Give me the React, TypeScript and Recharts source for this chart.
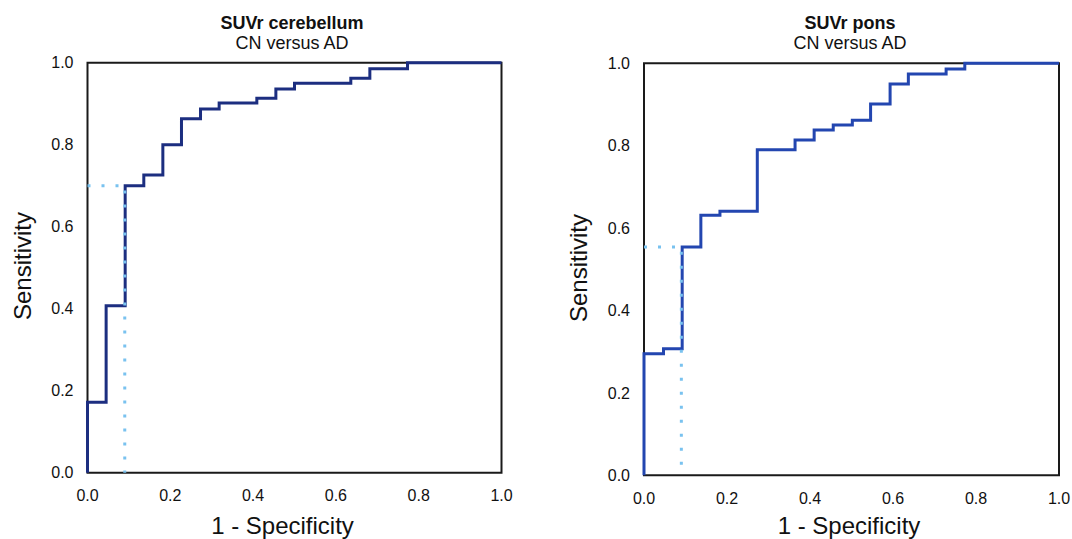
import React from 'react'
import { LineChart, Line, XAxis, YAxis, ReferenceArea } from 'recharts'

// ROC curve: false positive rate (1 - specificity) and sensitivity
const cerebellumFpr = [0, 0, 0.045, 0.091, 0.136, 0.182, 0.227, 0.273, 0.318, 0.409, 0.455, 0.5, 0.636, 0.682, 0.773, 1.0]
const cerebellumSens = [0, 0.172, 0.407, 0.7, 0.726, 0.8, 0.863, 0.887, 0.902, 0.913, 0.936, 0.95, 0.962, 0.985, 1.0, 1.0]

const ponsFpr = [0, 0, 0.047, 0.092, 0.137, 0.183, 0.273, 0.364, 0.41, 0.456, 0.502, 0.546, 0.593, 0.637, 0.728, 0.773, 1.0]
const ponsSens = [0, 0.295, 0.307, 0.554, 0.631, 0.641, 0.79, 0.814, 0.838, 0.85, 0.862, 0.901, 0.95, 0.974, 0.986, 1.0, 1.0]

// optimal cut-off points (dotted guides)
const cerebellumCutoff = { fpr: 0.09, sens: 0.7 }
const ponsCutoff = { fpr: 0.09, sens: 0.554 }

const ticks = [0, 0.2, 0.4, 0.6, 0.8, 1.0]

const FONT = '"Liberation Sans", Arial, Helvetica, sans-serif'

const toPoints = (fpr: number[], sens: number[]) => fpr.map((x, i) => ({ x, y: sens[i] }))
const cutoffPoints = (c: { fpr: number; sens: number }) => [
  { x: 0, y: c.sens },
  { x: c.fpr, y: c.sens },
  { x: c.fpr, y: 0 },
]

type RocProps = {
  left: number
  width: number
  margin: { top: number; right: number; bottom: number; left: number }
  fpr: number[]
  sens: number[]
  cutoff: { fpr: number; sens: number }
  color: string
}

function RocChart({ left, width, margin, fpr, sens, cutoff, color }: RocProps) {
  const tickStyle = { fontSize: 16, fill: '#111', fontFamily: FONT }
  return (
    <div style={{ position: 'absolute', left, top: 0 }}>
      <LineChart width={width} height={539} margin={margin}>
        <XAxis
          type="number"
          dataKey="x"
          domain={[0, 1]}
          ticks={ticks}
          tickFormatter={(v) => v.toFixed(1)}
          axisLine={false}
          tickLine={false}
          tickSize={0}
          tickMargin={17}
          height={60}
          tick={tickStyle}
          interval={0}
        />
        <YAxis
          type="number"
          dataKey="y"
          domain={[0, 1]}
          ticks={ticks}
          tickFormatter={(v) => v.toFixed(1)}
          axisLine={false}
          tickLine={false}
          tickSize={0}
          tickMargin={14}
          width={60}
          tick={tickStyle}
          interval={0}
        />
        <ReferenceArea x1={0} x2={1} y1={0} y2={1} fill="#fff" fillOpacity={0} stroke="#1a1a1a" strokeWidth={2} />
        <Line
          data={toPoints(fpr, sens)}
          dataKey="y"
          type="stepAfter"
          stroke={color}
          strokeWidth={3}
          dot={false}
          isAnimationActive={false}
        />
        <Line
          data={cutoffPoints(cutoff)}
          dataKey="y"
          type="linear"
          stroke="#79c2ef"
          strokeWidth={3}
          strokeDasharray="3 11"
          dot={false}
          isAnimationActive={false}
        />
      </LineChart>
    </div>
  )
}

function Title({ cx, title }: { cx: number; title: string }) {
  return (
    <div
      style={{
        position: 'absolute',
        left: cx,
        top: 12.5,
        transform: 'translateX(-50%)',
        fontFamily: FONT,
        fontSize: 18,
        lineHeight: '20.5px',
        textAlign: 'center',
        whiteSpace: 'nowrap',
        color: '#111',
      }}
    >
      <div style={{ fontWeight: 'bold' }}>{title}</div>
      <div>CN versus AD</div>
    </div>
  )
}

function AxisTitles({ xCenter, yLeft, yCenter }: { xCenter: number; yLeft: number; yCenter: number }) {
  const base = { position: 'absolute' as const, fontFamily: FONT, fontSize: 24, lineHeight: '24px', color: '#111', whiteSpace: 'nowrap' as const }
  return (
    <>
      <div style={{ ...base, left: xCenter, top: 513.5, transform: 'translateX(-50%)' }}>1 - Specificity</div>
      <div style={{ ...base, left: yLeft, top: yCenter, transform: 'translate(-50%, -50%) rotate(-90deg)' }}>Sensitivity</div>
    </>
  )
}

export default function App() {
  return (
    <div style={{ position: 'absolute', left: 0, top: 0, width: 1072, height: 539, overflow: 'hidden', background: '#fff' }}>
      <RocChart
        left={0}
        width={520}
        margin={{ top: 62.7, right: 18.5, bottom: 6.3, left: 27.5 }}
        fpr={cerebellumFpr}
        sens={cerebellumSens}
        cutoff={cerebellumCutoff}
        color="#1c2e80"
      />
      <RocChart
        left={556}
        width={516}
        margin={{ top: 63.3, right: 13, bottom: 3.7, left: 28 }}
        fpr={ponsFpr}
        sens={ponsSens}
        cutoff={ponsCutoff}
        color="#2346b0"
      />
      <Title cx={292} title="SUVr cerebellum" />
      <Title cx={850} title="SUVr pons" />
      <AxisTitles xCenter={282.5} yLeft={23} yCenter={266} />
      <AxisTitles xCenter={849} yLeft={579} yCenter={268} />
    </div>
  )
}
